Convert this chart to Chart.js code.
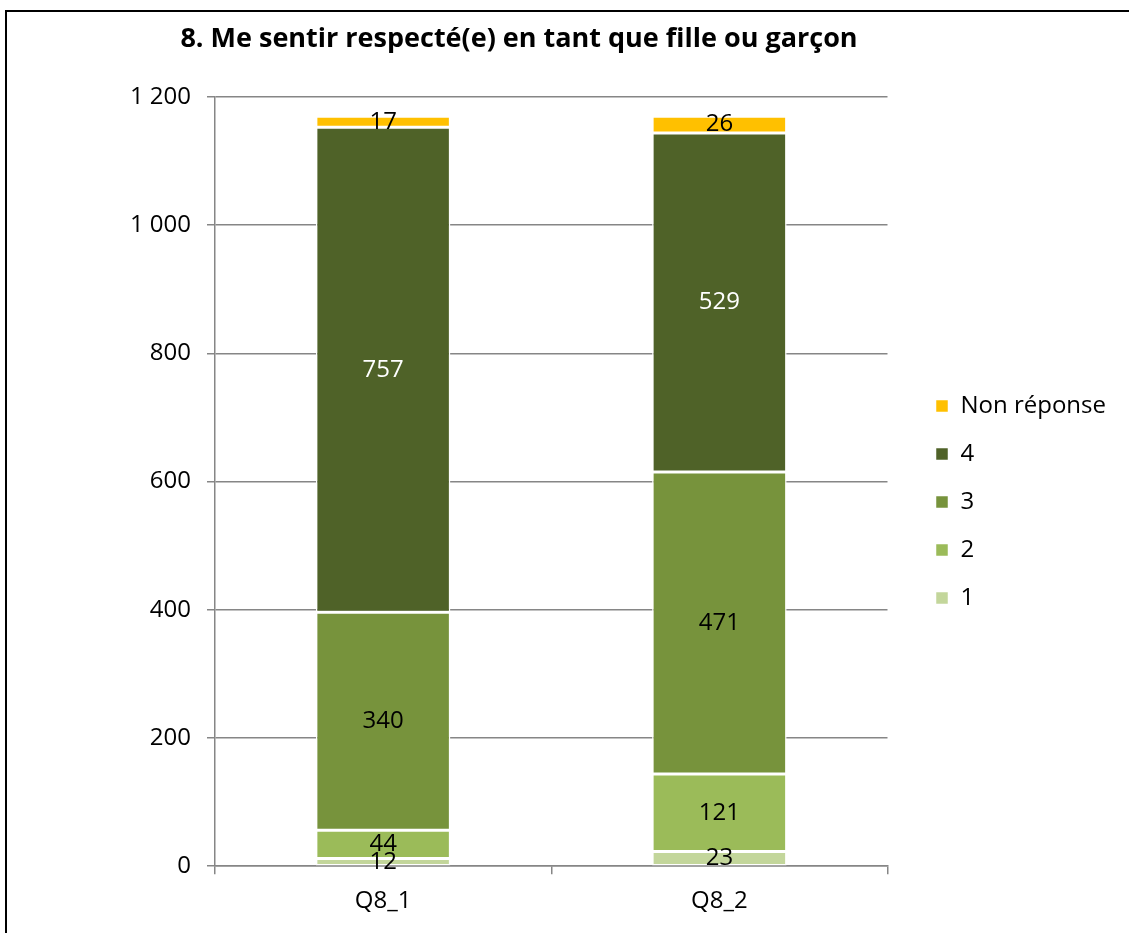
<!DOCTYPE html>
<html>
<head>
<meta charset="utf-8">
<title>8. Me sentir respecté(e) en tant que fille ou garçon</title>
<script src="https://cdn.jsdelivr.net/npm/chart.js@4.4.1/dist/chart.umd.min.js"></script>
<style>
    html, body { margin: 0; padding: 0; background: #fff; overflow: hidden; }
    #frame { position: absolute; left: 5px; top: 10px; width: 1122px; height: 921px;
             border-left: 2px solid #000; border-top: 2px solid #000; }
    #wrap { position: relative; width: 1122px; height: 921px; }
</style>
</head>
<body>
<div id="frame"><div id="wrap"><canvas id="columnChart"></canvas></div></div>
<script>
    // Data
    var categories = ['Q8_1', 'Q8_2'];
    var values1 = [12, 23];
    var values2 = [44, 121];
    var values3 = [340, 471];
    var values4 = [757, 529];
    var valuesNR = [17, 26];
    var yTickLabels = ['0', '200', '400', '600', '800', '1 000', '1 200'];
    var titleText = '8. Me sentir respecté(e) en tant que fille ou garçon';

    Chart.defaults.font.family = '"Open Sans", sans-serif';
    Chart.defaults.color = '#000';

    // Value in the middle of every segment
    var segmentLabels = {
        id: 'segmentLabels',
        afterDatasetsDraw: function(chart) {
            var ctx = chart.ctx;
            ctx.save();
            ctx.font = '24px "Open Sans"';
            ctx.textAlign = 'center';
            ctx.textBaseline = 'middle';
            chart.data.datasets.forEach(function(ds, i) {
                var meta = chart.getDatasetMeta(i);
                meta.data.forEach(function(bar, j) {
                    var p = bar.getProps(['x', 'y', 'base'], true);
                    ctx.fillStyle = ds.labelColor;
                    ctx.fillText(ds.data[j], p.x, (p.y + p.base) / 2);
                });
            });
            ctx.restore();
        }
    };

    // Title, a bit left of the plot centre like the original
    var chartTitle = {
        id: 'chartTitle',
        afterDraw: function(chart) {
            var ctx = chart.ctx;
            ctx.save();
            ctx.font = 'bold 27px "Open Sans"';
            ctx.fillStyle = '#000';
            ctx.textAlign = 'center';
            ctx.textBaseline = 'alphabetic';
            ctx.fillText(titleText, 512, 35);
            ctx.restore();
        }
    };

    // Leave a gap between the plot and the legend
    var legendGap = 24;
    var legendShift = {
        id: 'legendShift',
        beforeLayout: function(chart) {
            var lg = chart.legend;
            if (lg && !lg._gapPatched) {
                var fit = lg.fit;
                lg.fit = function() { fit.call(this); this.width += legendGap; };
                lg._gapPatched = true;
            }
        },
        afterLayout: function(chart) {
            var lg = chart.legend;
            lg.left += legendGap; lg.right += legendGap;
            lg.top -= 11; lg.bottom -= 11;
        }
    };

    var ctx = document.getElementById('columnChart').getContext('2d');

    var dataColumn = {
        labels: categories,
        datasets: [
            { label: '1', data: values1, backgroundColor: '#C3D69B', labelColor: '#000' },
            { label: '2', data: values2, backgroundColor: '#9BBB59', labelColor: '#000' },
            { label: '3', data: values3, backgroundColor: '#77933C', labelColor: '#000' },
            { label: '4', data: values4, backgroundColor: '#4F6228', labelColor: '#fff' },
            { label: 'Non réponse', data: valuesNR, backgroundColor: '#FFC000', labelColor: '#000' }
        ]
    };
    dataColumn.datasets.forEach(function(ds) {
        ds.borderColor = '#fff';
        ds.borderWidth = 1.5;
        ds.borderSkipped = false;
        ds.barPercentage = 0.4;
        ds.categoryPercentage = 1;
    });

    var configColumn = {
        type: 'bar',
        data: dataColumn,
        plugins: [segmentLabels, chartTitle, legendShift],
        options: {
            responsive: true,
            maintainAspectRatio: false,
            animation: false,
            layout: { padding: { top: 85, bottom: 4, left: 0, right: 13 } },
            plugins: {
                title: { display: false },
                tooltip: { enabled: false },
                legend: {
                    position: 'right',
                    reverse: true,
                    labels: {
                        boxWidth: 13,
                        boxHeight: 13,
                        padding: 24,
                        font: { size: 24 },
                        color: '#000'
                    }
                }
            },
            scales: {
                x: {
                    stacked: true,
                    grid: { drawOnChartArea: false, tickLength: 8, color: '#868686', lineWidth: 1.5 },
                    border: { color: '#868686', width: 1.5 },
                    ticks: { padding: 13, font: { size: 24 }, color: '#000' }
                },
                y: {
                    stacked: true,
                    min: 0,
                    max: 1200,
                    ticks: {
                        stepSize: 200,
                        padding: 16,
                        font: { size: 24 },
                        color: '#000',
                        callback: function(value, index) { return yTickLabels[index]; }
                    },
                    grid: { tickLength: 8, color: '#868686', lineWidth: 1.5 },
                    border: { color: '#868686', width: 1.5 },
                    afterFit: function(scale) { scale.width = 208; }
                }
            }
        }
    };

    var myColumnChart = new Chart(ctx, configColumn);
</script>
</body>
</html>
